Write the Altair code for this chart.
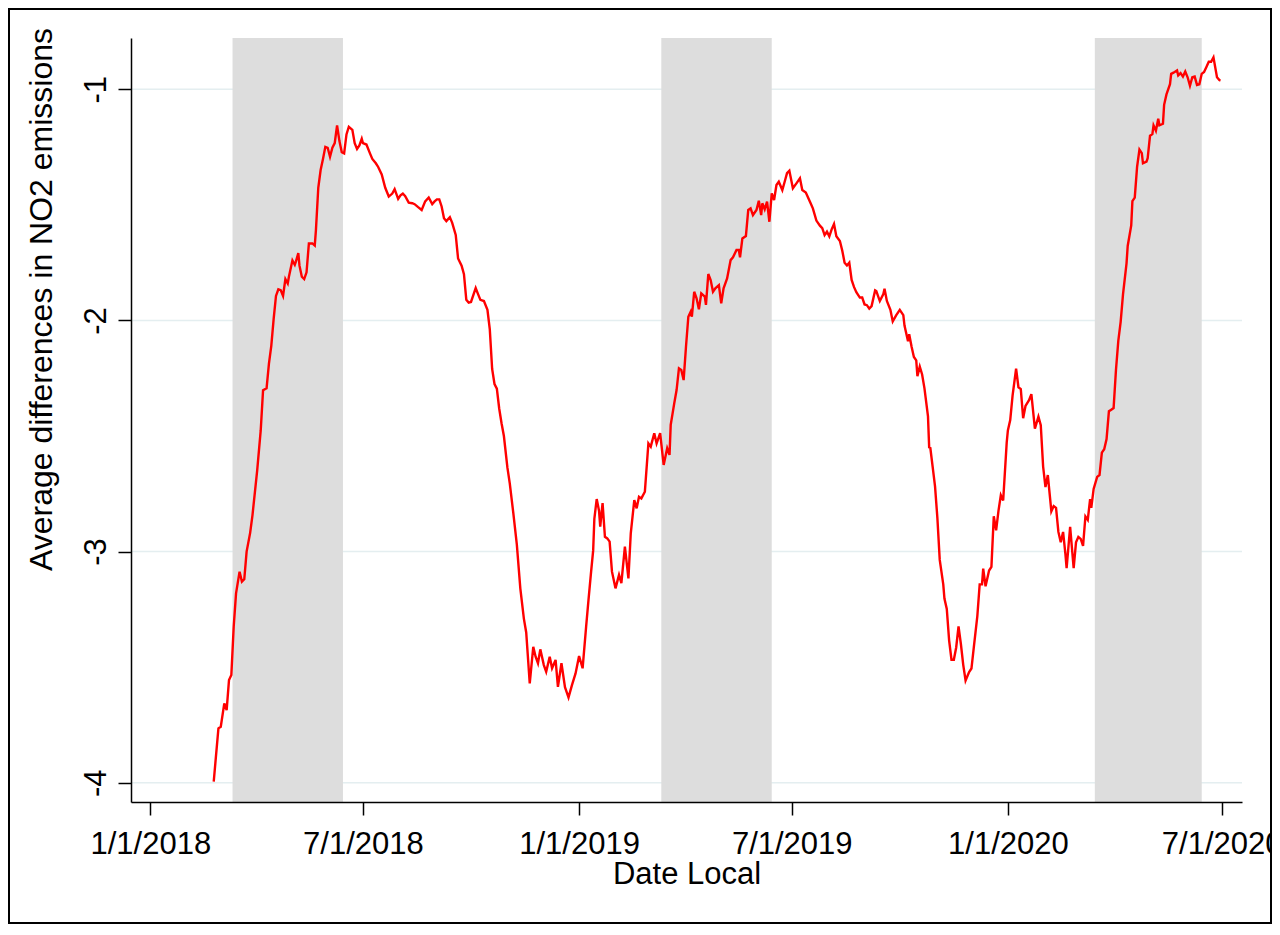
import altair as alt
import pandas as pd

# ---- data ----
start_date = "2018-01-01"
day_offsets = [
    54, 58, 60, 63, 65, 67, 69, 71, 73, 76, 78, 80, 82,
    85, 87, 91, 94, 96, 99, 101, 103, 105, 107, 109, 111, 113, 115, 117, 118, 121, 123, 124, 126, 127,
    129, 131, 133, 135, 138, 140, 141, 143, 145, 147, 149, 151, 153, 155, 157, 159, 161, 163, 165,
    167, 169, 172, 174, 176, 178, 180, 181, 184, 187, 189, 192, 194, 197, 200, 203, 206, 208, 211,
    213, 215, 217, 220, 223, 225, 228, 231, 234, 237, 240, 242, 244, 246, 248, 250, 252, 255, 257,
    260, 262, 265, 267, 269, 271, 273, 277, 279, 281, 284, 287, 289, 291, 293, 295, 297, 299, 301,
    304, 306, 309, 312, 315, 318, 320, 323, 326, 328, 330, 332, 335, 337, 340, 342, 345, 347, 350,
    353, 356, 359, 362, 365, 368, 371, 373, 375, 377, 378, 380, 382, 383, 385, 387, 389, 391, 393,
    396, 399, 401, 404, 407, 409, 412, 414, 416, 418, 421, 424, 426, 429, 431, 434, 437, 440, 442,
    443, 446, 448, 450, 452, 454, 456, 458, 460, 461, 463, 465, 467, 469, 472, 473, 475, 477, 479,
    481, 484, 486, 488, 491, 494, 496, 499, 501, 502, 504, 507, 509, 511, 513, 516, 518, 520, 521,
    523, 525, 527, 529, 531, 533, 535, 538, 540, 542, 544, 547, 550, 553, 555, 558,
    562, 564, 567, 570, 572, 574, 576, 578, 580, 582, 584, 587, 589, 591, 593, 595, 597, 599, 601,
    604, 606, 608, 610, 612, 614, 617, 618, 621, 624, 625, 627, 630, 632, 635, 638, 641, 642, 645,
    646, 648, 650, 652, 653, 655, 657, 659, 662, 663, 664, 666, 668, 670, 672, 675, 676, 678, 680,
    682, 684, 686, 688, 690, 692, 694, 697, 699, 701, 704, 706, 708, 709, 711, 714, 716, 718, 720,
    722, 724, 726, 729, 730,
    732, 734, 737, 739, 741, 743, 745, 748, 750, 753, 756, 758, 760, 762, 764, 766, 767, 769, 771,
    773, 775, 777, 779, 780, 783, 786, 788, 790, 792, 794, 796, 798, 800, 801, 803, 806, 808, 810,
    812, 814, 816, 818, 820, 822, 824, 826, 828, 831, 832, 835, 836, 838, 840, 842, 844, 845, 848,
    849, 851, 853, 854, 856, 858, 859, 862, 863, 865, 868, 869, 871, 874, 875, 877, 879, 881, 883,
    885, 887, 889, 891, 893, 895, 897, 899, 901, 903, 905, 908, 910, 911,
]
no2_diff = [
    -3.995, -3.765, -3.758, -3.657, -3.686, -3.556, -3.534, -3.325, -3.181, -3.087, -3.130, -3.120, -3.000,
    -2.919, -2.842, -2.649, -2.476, -2.302, -2.293, -2.187, -2.110, -1.994, -1.894, -1.865, -1.869, -1.894, -1.821, -1.840, -1.811, -1.740, -1.759, -1.744, -1.709, -1.763,
    -1.811, -1.821, -1.792, -1.667, -1.667, -1.676, -1.609, -1.426, -1.349, -1.301, -1.249, -1.253, -1.292, -1.253, -1.233, -1.156, -1.224, -1.272, -1.277,
    -1.195, -1.162, -1.175, -1.233, -1.258, -1.243, -1.214, -1.233, -1.239, -1.277, -1.301, -1.320, -1.336, -1.368, -1.426, -1.464, -1.451, -1.432, -1.474,
    -1.459, -1.451, -1.462, -1.490, -1.493, -1.497, -1.510, -1.522, -1.485, -1.468, -1.497, -1.485, -1.476, -1.476, -1.507, -1.558, -1.570, -1.553, -1.578,
    -1.630, -1.732, -1.763, -1.800, -1.911, -1.923, -1.920, -1.860, -1.886, -1.911, -1.916, -1.954, -2.039, -2.210, -2.275, -2.295, -2.381, -2.445, -2.500,
    -2.637, -2.705, -2.833, -2.969, -3.160, -3.290, -3.350, -3.570, -3.412, -3.455, -3.483, -3.423, -3.491, -3.520, -3.455, -3.505, -3.469, -3.585, -3.483,
    -3.587, -3.631, -3.577, -3.527, -3.452, -3.505, -3.325, -3.210, -3.100, -2.995, -2.858, -2.773, -2.824, -2.892, -2.790, -2.936, -2.943, -2.957, -3.087,
    -3.159, -3.101, -3.137, -2.979, -3.116, -2.921, -2.777, -2.813, -2.763, -2.770, -2.741, -2.532, -2.546, -2.488, -2.532, -2.488, -2.625, -2.553, -2.582,
    -2.452, -2.359, -2.301, -2.207, -2.214, -2.258, -2.114, -1.984, -1.962, -1.984, -1.876, -1.904, -1.952, -1.883, -1.897, -1.933, -1.799, -1.825, -1.876,
    -1.861, -1.847, -1.926, -1.861, -1.818, -1.739, -1.727, -1.695, -1.695, -1.727, -1.645, -1.635, -1.522, -1.515, -1.544, -1.522, -1.482, -1.544, -1.493,
    -1.519, -1.486, -1.573, -1.450, -1.479, -1.414, -1.400, -1.436, -1.400, -1.363, -1.352, -1.428, -1.407, -1.385, -1.436, -1.447,
    -1.492, -1.515, -1.568, -1.590, -1.601, -1.631, -1.616, -1.636, -1.606, -1.583, -1.636, -1.656, -1.697, -1.750, -1.762, -1.750, -1.825, -1.855, -1.878,
    -1.901, -1.901, -1.931, -1.934, -1.949, -1.938, -1.870, -1.873, -1.916, -1.886, -1.863, -1.916, -1.954, -2.004, -1.977, -1.954, -1.977, -2.022, -2.090,
    -2.060, -2.113, -2.158, -2.173, -2.241, -2.200, -2.234, -2.294, -2.415, -2.549, -2.552, -2.635, -2.718, -2.855, -3.036, -3.142, -3.203, -3.248, -3.385,
    -3.468, -3.468, -3.415, -3.324, -3.400, -3.490, -3.558, -3.521, -3.506, -3.415, -3.279, -3.142, -3.142, -3.074, -3.150, -3.082, -3.066, -2.847, -2.908,
    -2.824, -2.756, -2.779, -2.529, -2.476,
    -2.431, -2.325, -2.209, -2.289, -2.297, -2.423, -2.370, -2.345, -2.319, -2.468, -2.416, -2.453, -2.632, -2.721, -2.669, -2.773, -2.826, -2.803, -2.811,
    -2.915, -2.960, -2.915, -3.012, -3.072, -2.893, -3.072, -2.960, -2.937, -2.945, -2.975, -2.848, -2.863, -2.773, -2.811, -2.729, -2.677, -2.669, -2.572,
    -2.557, -2.513, -2.393, -2.386, -2.379, -2.215, -2.088, -2.006, -1.887, -1.753, -1.678, -1.589, -1.484, -1.469, -1.335, -1.261, -1.276, -1.320, -1.313,
    -1.298, -1.201, -1.194, -1.156, -1.179, -1.127, -1.156, -1.149, -1.067, -1.022, -0.978, -0.933, -0.928, -0.918, -0.940, -0.930, -0.945, -0.923, -0.948,
    -0.985, -0.948, -0.945, -0.981, -0.978, -0.933, -0.925, -0.903, -0.881, -0.881, -0.862, -0.948, -0.960, -0.962,
]
shade_start = ["2018-03-12", "2019-03-12", "2020-03-15"]
shade_end = ["2018-06-14", "2019-06-14", "2020-06-14"]
tick_dates = ["2018-01-01", "2018-07-01", "2019-01-01", "2019-07-01", "2020-01-01", "2020-07-01"]
y_ticks = [-1, -2, -3, -4]
x_title = "Date Local"
y_title = "Average differences in NO2 emissions"

# ---- tables ----
dates = (pd.Timestamp(start_date) + pd.to_timedelta(day_offsets, unit="D")).strftime("%Y-%m-%d")
line_df = pd.DataFrame({"date": list(dates), "value": no2_diff})
shade_df = pd.DataFrame({"start": shade_start, "end": shade_end})
grid_df = pd.DataFrame({"y": y_ticks})

FONT = "Liberation Sans, Arial, sans-serif"


def dt(s, hours=0):
    t = pd.Timestamp(s)
    return alt.DateTime(year=t.year, month=t.month, date=t.day, hours=hours, utc=True)


x_scale = alt.Scale(type="utc", domain=[dt("2017-12-15", 14), dt("2020-07-18", 7)], nice=False)
y_scale = alt.Scale(domain=[-4.0835, -0.778], nice=False, zero=False)

common_axis = dict(
    grid=False, tickSize=13, tickWidth=1.5, tickColor="black",
    domainColor="black", domainWidth=1.5,
    labelFontSize=31, labelFont=FONT, labelColor="black",
    labelFlush=False, labelOverlap=False,
    titleFont=FONT, titleFontWeight="normal", titleColor="black",
    zindex=1,
)

x_axis = alt.Axis(
    values=[dt(s) for s in tick_dates], format="%-m/%-d/%Y", title=x_title,
    labelPadding=38, labelBaseline="alphabetic",
    titleFontSize=31,
    titleX=555.5, titleY=81, titleAlign="center", titleBaseline="alphabetic",
    **common_axis,
)
y_axis = alt.Axis(
    values=y_ticks, labelExpr="'' + datum.value", title=y_title,
    labelAngle=270, labelAlign="center", labelBaseline="alphabetic", labelPadding=13,
    titleFontSize=32,
    titleAngle=270, titleX=-80, titleY=261, titleAlign="center", titleBaseline="alphabetic",
    **common_axis,
)

grid = alt.Chart(grid_df).mark_rule(color="#e4eef0", strokeWidth=1.5).encode(
    y=alt.Y("y:Q", scale=y_scale, axis=y_axis)
)
shade = alt.Chart(shade_df).mark_rect(color="#dddddd").encode(
    x=alt.X("start:T", scale=x_scale, axis=x_axis),
    x2="end:T",
)
line = alt.Chart(line_df).mark_line(color="#ff0000", strokeWidth=2.4).encode(
    x=alt.X("date:T", scale=x_scale, axis=x_axis),
    y=alt.Y("value:Q", scale=y_scale, axis=y_axis),
)
frame = alt.Chart(pd.DataFrame({"k": [0]})).mark_rect(
    fillOpacity=0, stroke="black", strokeWidth=2
).encode(
    x=alt.value(-122), x2=alt.value(1140), y=alt.value(-29), y2=alt.value(885)
)

chart = (
    alt.layer(grid, shade, line, frame)
    .properties(
        width=1111,
        height=764,
        autosize=alt.AutoSizeParams(type="none"),
        padding={"left": 123, "top": 30, "right": 30, "bottom": 122},
        background="white",
    )
    .configure_view(stroke=None)
)

chart.save("out.html", embed_options={"renderer": "svg", "actions": False})
